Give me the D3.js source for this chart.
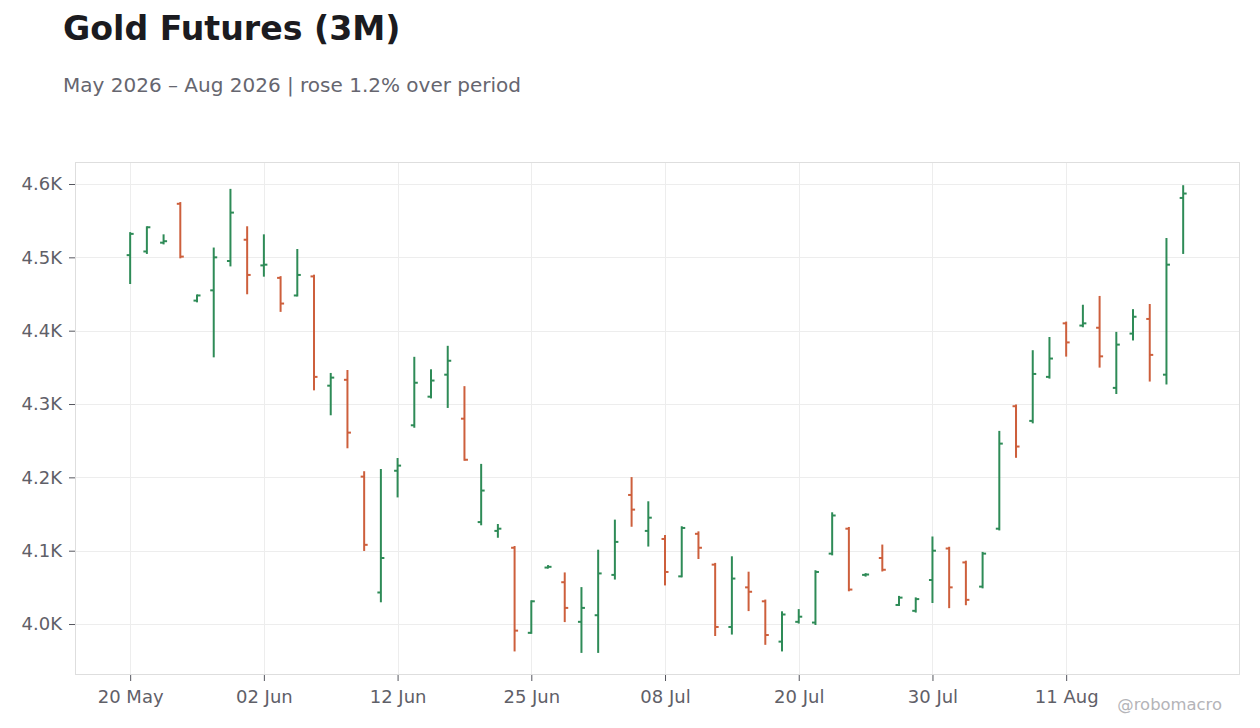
<!DOCTYPE html>
<html lang="en">
<head>
  <meta charset="UTF-8" />
  <title>Gold Futures (3M)</title>
  <script src="https://d3js.org/d3.v7.min.js"></script>
  <style>
    body {
      margin: 0;
      background: #fff;
      font-family: "DejaVu Sans", sans-serif;
    }
  </style>
</head>
<body>
  <div id="chart"></div>

  <script>
    // trading days, May 20 – Aug 20 2026
    const dates = [
      "2026-05-20", "2026-05-21", "2026-05-22", "2026-05-26", "2026-05-27", "2026-05-28", "2026-05-29", "2026-06-01",
      "2026-06-02", "2026-06-03", "2026-06-04", "2026-06-05", "2026-06-08", "2026-06-09", "2026-06-10", "2026-06-11",
      "2026-06-12", "2026-06-15", "2026-06-16", "2026-06-17", "2026-06-18", "2026-06-22", "2026-06-23", "2026-06-24",
      "2026-06-25", "2026-06-26", "2026-06-29", "2026-06-30", "2026-07-01", "2026-07-02", "2026-07-06", "2026-07-07",
      "2026-07-08", "2026-07-09", "2026-07-10", "2026-07-13", "2026-07-14", "2026-07-15", "2026-07-16", "2026-07-17",
      "2026-07-20", "2026-07-21", "2026-07-22", "2026-07-23", "2026-07-24", "2026-07-27", "2026-07-28", "2026-07-29",
      "2026-07-30", "2026-07-31", "2026-08-03", "2026-08-04", "2026-08-05", "2026-08-06", "2026-08-07", "2026-08-10",
      "2026-08-11", "2026-08-12", "2026-08-13", "2026-08-14", "2026-08-17", "2026-08-18", "2026-08-19", "2026-08-20"
    ];

    const open = [
      4503, 4508, 4520, 4573, 4441, 4455, 4495, 4524, 4489, 4472, 4448, 4474, 4325, 4333, 4201, 4043,
      4209, 4271, 4310, 4340, 4280, 4139, 4127, 4104, 3988, 4077, 4057, 4003, 4012, 4067, 4176, 4127,
      4116, 4065, 4123, 4081, 3996, 4050, 4031, 3976, 4003, 4002, 4096, 4130, 4067, 4090, 4026, 4018,
      4060, 4103, 4084, 4051, 4130, 4297, 4277, 4337, 4410, 4407, 4404, 4322, 4396, 4416, 4340, 4581
    ];
    const high = [
      4533, 4541, 4530, 4574, 4448, 4512, 4592, 4541, 4530, 4473, 4510, 4475, 4341, 4345, 4207, 4210,
      4225, 4363, 4346, 4378, 4323, 4217, 4135, 4105, 4031, 4079, 4069, 4049, 4100, 4141, 4199, 4166,
      4120, 4132, 4125, 4082, 4091, 4070, 4032, 4016, 4019, 4072, 4151, 4131, 4068, 4107, 4037, 4035,
      4118, 4104, 4085, 4097, 4262, 4298, 4372, 4390, 4411, 4434, 4446, 4397, 4428, 4435, 4525, 4597
    ];
    const low = [
      4465, 4506, 4519, 4500, 4440, 4365, 4489, 4451, 4475, 4427, 4448, 4320, 4286, 4241, 4101, 4031,
      4174, 4269, 4309, 4296, 4224, 4136, 4119, 3964, 3988, 4077, 4004, 3962, 3962, 4062, 4134, 4107,
      4054, 4065, 4090, 3985, 3987, 4019, 3973, 3964, 4002, 4000, 4095, 4046, 4066, 4073, 4026, 4017,
      4030, 4023, 4027, 4050, 4129, 4228, 4275, 4336, 4366, 4406, 4351, 4315, 4388, 4332, 4328, 4506
    ];
    const close = [
      4532, 4541, 4522, 4501, 4448, 4500, 4561, 4476, 4490, 4437, 4476, 4337, 4336, 4261, 4108, 4090,
      4216, 4329, 4332, 4359, 4224, 4182, 4130, 3991, 4031, 4078, 4022, 4022, 4069, 4112, 4156, 4145,
      4071, 4131, 4104, 3996, 4062, 4044, 3985, 4013, 4010, 4071, 4148, 4047, 4067.5, 4074, 4036, 4034,
      4100, 4050, 4033, 4096, 4246, 4242, 4341, 4362, 4384, 4410, 4365, 4381, 4419, 4367, 4490, 4587
    ];

    const yTicks = [4000, 4100, 4200, 4300, 4400, 4500, 4600];
    const xTickEvery = 8;

    const width = 1260;
    const height = 728;
    const margin = { top: 162, right: 20, bottom: 53, left: 75 };

    const up = "#2e8b57";
    const down = "#cd5f3c";
    const labelColor = "#5f6068";

    const bars = dates.map((d, i) => ({
      i: i,
      date: d3.timeParse("%Y-%m-%d")(d),
      o: open[i], h: high[i], l: low[i], c: close[i]
    }));

    const svg = d3.select("#chart")
      .append("svg")
      .attr("width", width)
      .attr("height", height)
      .style("display", "block");

    const x = d3.scaleLinear()
      .domain([-3.3, dates.length - 1 + 3.4])
      .range([margin.left, width - margin.right]);

    const y = d3.scaleLinear()
      .domain([3930.5, 4630])
      .range([height - margin.bottom, margin.top]);

    // titles
    svg.append("text")
      .attr("x", 63)
      .attr("y", 40)
      .attr("font-size", 33.2)
      .attr("font-weight", "bold")
      .attr("fill", "#1b1b20")
      .text("Gold Futures (3M)");

    const pct = (close[close.length - 1] / close[0] - 1) * 100;
    svg.append("text")
      .attr("x", 63)
      .attr("y", 92)
      .attr("font-size", 20)
      .attr("fill", "#66666f")
      .text(`May 2026 – Aug 2026 | ${pct >= 0 ? "rose" : "fell"} ${Math.abs(pct).toFixed(1)}% over period`);

    // gridlines
    const xTickIdx = d3.range(0, dates.length, xTickEvery);
    const grid = svg.append("g").attr("stroke", "#ededed").attr("stroke-width", 1);

    grid.selectAll(".hg")
      .data(yTicks)
      .enter()
      .append("line")
      .attr("x1", margin.left)
      .attr("x2", width - margin.right)
      .attr("y1", d => Math.round(y(d)) + 0.5)
      .attr("y2", d => Math.round(y(d)) + 0.5);

    grid.selectAll(".vg")
      .data(xTickIdx)
      .enter()
      .append("line")
      .attr("x1", d => Math.round(x(d)) + 0.5)
      .attr("x2", d => Math.round(x(d)) + 0.5)
      .attr("y1", margin.top)
      .attr("y2", height - margin.bottom);

    // frame
    svg.append("rect")
      .attr("x", margin.left + 0.5)
      .attr("y", margin.top + 0.5)
      .attr("width", width - margin.left - margin.right - 1)
      .attr("height", height - margin.top - margin.bottom - 1)
      .attr("fill", "none")
      .attr("stroke", "#dedede");

    // axes
    const fmtDate = d3.timeFormat("%d %b");

    const xAxis = d3.axisBottom(x)
      .tickValues(xTickIdx)
      .tickSize(6)
      .tickPadding(6)
      .tickFormat(i => fmtDate(bars[i].date));

    const yAxis = d3.axisLeft(y)
      .tickValues(yTicks)
      .tickSize(6)
      .tickPadding(7)
      .tickFormat(v => (v / 1000).toFixed(1) + "K");

    const gx = svg.append("g")
      .attr("transform", `translate(0,${height - margin.bottom})`)
      .call(xAxis);

    const gy = svg.append("g")
      .attr("transform", `translate(${margin.left},0)`)
      .call(yAxis);

    [gx, gy].forEach(g => {
      g.select(".domain").remove();
      g.selectAll(".tick line").attr("stroke", "#55565e");
      g.selectAll(".tick text")
        .attr("fill", labelColor)
        .attr("font-size", 18)
        .attr("font-family", "DejaVu Sans, sans-serif");
    });
    gx.selectAll(".tick text").attr("dy", "0.9em");

    // OHLC bars
    const tickLen = 3.5;
    const ohlc = svg.append("g")
      .selectAll("g")
      .data(bars)
      .enter()
      .append("g")
      .attr("stroke", d => d.c >= d.o ? up : down)
      .attr("stroke-width", 2)
      .attr("fill", "none");

    ohlc.append("line")
      .attr("x1", d => x(d.i))
      .attr("x2", d => x(d.i))
      .attr("y1", d => y(d.h) - 1)
      .attr("y2", d => y(d.l) + 1);

    ohlc.append("line")
      .attr("x1", d => x(d.i) - tickLen)
      .attr("x2", d => x(d.i))
      .attr("y1", d => y(d.o))
      .attr("y2", d => y(d.o));

    ohlc.append("line")
      .attr("x1", d => x(d.i))
      .attr("x2", d => x(d.i) + tickLen)
      .attr("y1", d => y(d.c))
      .attr("y2", d => y(d.c));

    // watermark
    svg.append("text")
      .attr("x", 1222)
      .attr("y", 710)
      .attr("text-anchor", "end")
      .attr("font-size", 16.4)
      .attr("fill", "#b4b4b8")
      .text("@robomacro");
  </script>
</body>
</html>
